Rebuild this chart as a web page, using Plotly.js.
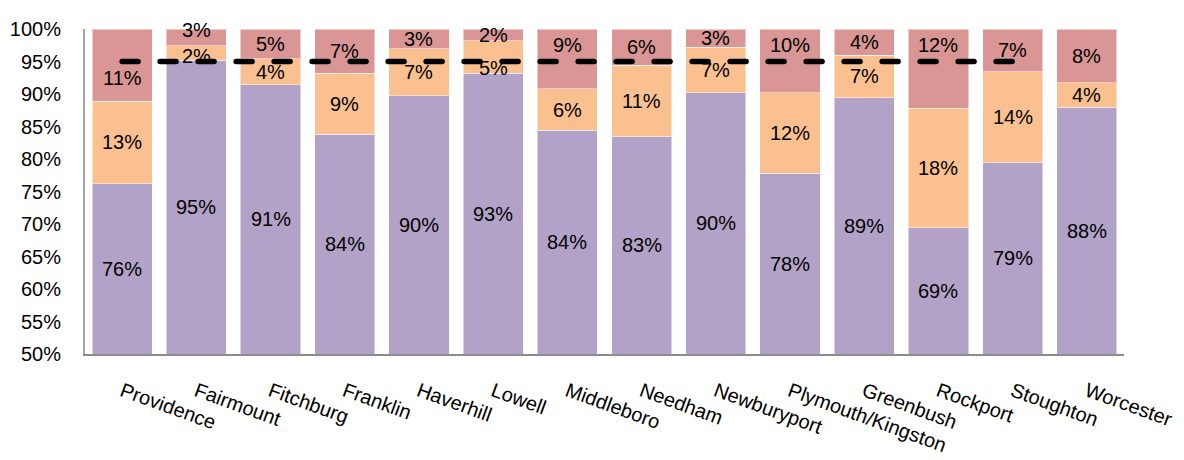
<!DOCTYPE html>
<html>
<head>
<meta charset="utf-8">
<script src="https://cdn.plot.ly/plotly-3.0.1.min.js"></script>
<style>
  html, body { margin: 0; padding: 0; background: #fff; }
  #chart { width: 1184px; height: 460px; }
  #chart .scatterlayer path.js-line { stroke-linecap: round; }
</style>
</head>
<body>
<div id="chart"></div>
<script>
// ---- data ----
const categories = ["Providence", "Fairmount", "Fitchburg", "Franklin", "Haverhill", "Lowell",
  "Middleboro", "Needham", "Newburyport", "Plymouth/Kingston", "Greenbush", "Rockport",
  "Stoughton", "Worcester"];
const seriesLow  = [76.2, 95.2, 91.4, 83.8, 89.7, 93.2, 84.4, 83.4, 90.2, 77.8, 89.4, 69.4, 79.4, 88.0];
const seriesMid  = [12.7, 2.2, 4.0, 9.4, 7.3, 5.0, 6.4, 11.0, 7.0, 12.4, 6.6, 18.4, 14.0, 3.7];
const seriesHigh = [11.1, 2.6, 4.6, 6.8, 3.0, 1.8, 9.2, 5.6, 2.8, 9.8, 4.0, 12.2, 6.6, 8.3];
const targetCategories = ["Providence", "Fairmount", "Fitchburg", "Franklin", "Haverhill", "Lowell",
  "Middleboro", "Needham", "Newburyport", "Plymouth/Kingston", "Greenbush", "Rockport", "Stoughton"];
const targetValues = [95, 95, 95, 95, 95, 95, 95, 95, 95, 95, 95, 95, 95];
const yTickValues = [50, 55, 60, 65, 70, 75, 80, 85, 90, 95, 100];
const yTickLabels = yTickValues.map(v => v + "%");

// ---- styles ----
const FONT = "Liberation Sans, Arial, sans-serif";
const colors = { low: "#B3A2C7", mid: "#FAC090", high: "#D99694" };
// manual label nudges (px) used in the original to keep labels clear of the dashed line
const highShift = { "Providence": -13, "Fairmount": 7, "Middleboro": 14, "Plymouth/Kingston": 16, "Rockport": 24 };
const midShift = { "Fairmount": -3, "Lowell": -11 };

function barTrace(vals, color) {
  return {
    type: "bar", x: categories, y: vals,
    marker: { color: color, line: { color: "rgba(255,255,255,0.5)", width: 1 } },
    hoverinfo: "skip", showlegend: false
  };
}

const traces = [
  barTrace(seriesLow, colors.low),
  barTrace(seriesMid, colors.mid),
  barTrace(seriesHigh, colors.high),
  {
    type: "scatter", mode: "lines", x: targetCategories, y: targetValues,
    line: { color: "#000", width: 5.5, dash: "16px,22px" },
    hoverinfo: "skip", showlegend: false
  }
];

const annotations = [];
categories.forEach((c, i) => {
  const lo = seriesLow[i], mi = seriesMid[i], hi = seriesHigh[i];
  const segs = [
    { v: lo, y: (lo + 50) / 2, shift: 0 },
    { v: mi, y: lo + mi / 2, shift: midShift[c] || 0 },
    { v: hi, y: lo + mi + hi / 2, shift: highShift[c] || 0 }
  ];
  segs.forEach(s => {
    annotations.push({
      x: c, y: s.y, xref: "x", yref: "y", yshift: s.shift,
      text: Math.round(s.v) + "%", showarrow: false,
      font: { family: FONT, size: 20, color: "#000" }
    });
  });
});

const layout = {
  width: 1184, height: 460,
  margin: { l: 85, r: 60, t: 29, b: 106 },
  paper_bgcolor: "#fff", plot_bgcolor: "#fff",
  barmode: "stack", bargap: 0.19,
  font: { family: FONT, size: 20, color: "#000" },
  xaxis: {
    type: "category", tickangle: 20, showgrid: false, zeroline: false,
    showline: true, linecolor: "#8C8C8C", linewidth: 2,
    ticks: "", ticklabelstandoff: 16,
    tickfont: { family: FONT, size: 20, color: "#000" }
  },
  yaxis: {
    range: [50, 100], tickmode: "array", tickvals: yTickValues, ticktext: yTickLabels,
    showgrid: false, zeroline: false, showline: true, linecolor: "#A6A6A6", linewidth: 2,
    ticks: "", ticklabelstandoff: 18,
    tickfont: { family: FONT, size: 20, color: "#000" }
  },
  annotations: annotations
};

Plotly.newPlot("chart", traces, layout, { displayModeBar: false, staticPlot: true });
</script>
</body>
</html>
